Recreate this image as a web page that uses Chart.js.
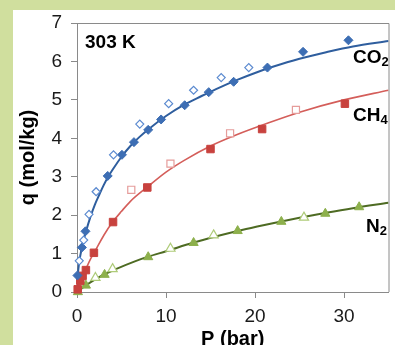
<!DOCTYPE html>
<html><head><meta charset="utf-8">
<script src="https://cdn.jsdelivr.net/npm/chart.js@4.4.1/dist/chart.umd.min.js"></script>
<style>html,body{margin:0;padding:0;background:#D0DF9E;overflow:hidden}#wrap{width:395px;height:345px}</style>
</head><body><div id="wrap"><canvas id="c" width="395" height="345"></canvas></div>
<script>
// ---- data (P in bar, q in mol/kg) ----
const xTickValues = [0, 10, 20, 30];
const yTickValues = [0, 1, 2, 3, 4, 5, 6, 7];

const co2FilledP = [0.05, 0.55, 0.95, 3.45, 5.05, 6.4, 8.0, 9.45, 12.1, 14.8, 17.6, 21.4, 25.4, 30.5];
const co2FilledQ = [0.43, 1.16, 1.58, 3.02, 3.57, 3.9, 4.22, 4.49, 4.86, 5.2, 5.47, 5.84, 6.25, 6.55];
const co2OpenP = [0.25, 0.75, 1.35, 2.15, 4.1, 7.05, 10.3, 13.1, 16.2, 19.3];
const co2OpenQ = [0.81, 1.35, 2.02, 2.61, 3.57, 4.37, 4.9, 5.25, 5.58, 5.84];
const co2FitP = [0, 0.1, 0.25, 0.5, 0.75, 1, 1.5, 2, 2.5, 3, 3.5, 4, 5, 6, 7, 8, 10, 12, 14, 16, 18, 20, 22, 25, 28, 31, 35];
const co2FitQ = [0, 0.45, 0.78, 1.1, 1.35, 1.57, 1.95, 2.27, 2.53, 2.78, 3.0, 3.18, 3.52, 3.8, 4.03, 4.23, 4.58, 4.87, 5.1, 5.32, 5.52, 5.7, 5.86, 6.07, 6.24, 6.39, 6.53];

const ch4FilledP = [0.08, 0.37, 0.63, 1.0, 1.9, 4.05, 7.9, 15.0, 20.8, 30.1];
const ch4FilledQ = [0.07, 0.29, 0.42, 0.57, 1.02, 1.82, 2.72, 3.72, 4.24, 4.9];
const ch4OpenP = [6.1, 10.5, 17.2, 24.6];
const ch4OpenQ = [2.66, 3.34, 4.13, 4.74];
const ch4FitP = [0, 0.3, 0.6, 1, 1.5, 2, 3, 4, 5, 6, 8, 10, 12, 15, 18, 21, 25, 30, 35];
const ch4FitQ = [0, 0.25, 0.42, 0.6, 0.85, 1.05, 1.47, 1.82, 2.1, 2.36, 2.75, 3.12, 3.42, 3.8, 4.1, 4.36, 4.68, 5.0, 5.25];

const n2FilledP = [0.1, 1.0, 3.1, 8.0, 13.1, 18.05, 22.96, 27.9, 31.7];
const n2FilledQ = [0.0, 0.17, 0.45, 0.91, 1.28, 1.59, 1.83, 2.04, 2.21];
const n2OpenP = [2.07, 4.0, 10.5, 15.35, 25.5];
const n2OpenQ = [0.37, 0.6, 1.13, 1.48, 1.94];
const n2FitP = [0, 1, 2, 3, 4, 6, 8, 10, 13, 16, 19, 22, 25, 28, 31, 35];
const n2FitQ = [0, 0.17, 0.32, 0.45, 0.56, 0.75, 0.92, 1.06, 1.28, 1.47, 1.64, 1.79, 1.93, 2.06, 2.18, 2.32];

const pts = (xs, ys) => xs.map((x, i) => ({x: x, y: ys[i]}));

const FONT = '"Liberation Sans", Arial, sans-serif';
const AXIS_GRAY = '#8A8A8A';

const bgPlugin = {
  id: 'bg',
  beforeDraw(chart) {
    const ctx = chart.ctx;
    ctx.save();
    ctx.fillStyle = '#D0DF9E';
    ctx.fillRect(0, 0, chart.width, chart.height);
    ctx.fillStyle = '#FFFFFF';
    ctx.fillRect(13, 10, chart.width - 13, chart.height - 10);
    ctx.restore();
  },
  beforeDatasetsDraw(chart) {
    const {ctx, chartArea: a} = chart;
    ctx.save();
    ctx.strokeStyle = AXIS_GRAY;
    ctx.lineWidth = 1;
    ctx.beginPath();
    ctx.moveTo(a.left, a.top + 0.5);
    ctx.lineTo(a.right + 0.5, a.top + 0.5);
    ctx.lineTo(a.right + 0.5, a.bottom);
    ctx.stroke();
    ctx.restore();
  },
  afterDraw(chart) {
    const ctx = chart.ctx;
    ctx.save();
    ctx.fillStyle = '#000';
    ctx.textBaseline = 'alphabetic';
    ctx.textAlign = 'left';
    ctx.font = 'bold 19px ' + FONT;
    ctx.fillText('303 K', 85, 48);
    const lab = (main, sub, x, y, dy) => {
      ctx.font = 'bold 19px ' + FONT;
      ctx.fillText(main, x, y);
      const w = ctx.measureText(main).width;
      ctx.font = 'bold 13px ' + FONT;
      ctx.fillText(sub, x + w, y + dy);
    };
    lab('CO', '2', 353, 63, 3);
    lab('CH', '4', 353, 121, 3);
    lab('N', '2', 366, 232, 3);
    ctx.restore();
  }
};

const scaleFix = (w, h) => (scale) => {
  if (w !== null) scale.width = w;
  if (h !== null) scale.height = h;
  scale.paddingTop = 0; scale.paddingBottom = 0;
  scale.paddingLeft = 0; scale.paddingRight = 0;
};

new Chart(document.getElementById('c'), {
  type: 'scatter',
  data: {
    datasets: [
      {data: pts(co2OpenP, co2OpenQ), pointStyle: 'rectRot', pointRadius: 4, backgroundColor: '#FFFFFF', borderColor: '#5B8AD0', borderWidth: 1.2, clip: false},
      {data: pts(co2FilledP, co2FilledQ), pointStyle: 'rectRot', pointRadius: 4.5, backgroundColor: '#3D6EB4', borderColor: '#3D6EB4', borderWidth: 1, clip: false},
      {data: pts(ch4OpenP, ch4OpenQ), pointStyle: 'rect', pointRadius: 5, backgroundColor: '#FFFFFF', borderColor: '#E59C9A', borderWidth: 1.2, clip: false},
      {data: pts(ch4FilledP, ch4FilledQ), pointStyle: 'rect', pointRadius: 5.3, backgroundColor: '#C8423E', borderColor: '#C8423E', borderWidth: 1, clip: false},
      {data: pts(n2OpenP, n2OpenQ), pointStyle: 'triangle', pointRadius: 5.3, backgroundColor: '#FFFFFF', borderColor: '#AECB78', borderWidth: 1.2, clip: false},
      {data: pts(n2FilledP, n2FilledQ), pointStyle: 'triangle', pointRadius: 5.3, backgroundColor: '#8DB04C', borderColor: '#8DB04C', borderWidth: 1, clip: false},
      {data: pts(co2FitP, co2FitQ), showLine: true, pointRadius: 0, borderColor: '#2F5E9E', borderWidth: 2, cubicInterpolationMode: 'monotone', fill: false},
      {data: pts(ch4FitP, ch4FitQ), showLine: true, pointRadius: 0, borderColor: '#D45E5A', borderWidth: 1.6, cubicInterpolationMode: 'monotone', fill: false},
      {data: pts(n2FitP, n2FitQ), showLine: true, pointRadius: 0, borderColor: '#4E6B23', borderWidth: 2, cubicInterpolationMode: 'monotone', fill: false}
    ]
  },
  options: {
    responsive: false,
    animation: false,
    devicePixelRatio: 1,
    layout: {padding: {top: 23, right: 3, left: 0, bottom: 0}},
    plugins: {legend: {display: false}, tooltip: {enabled: false}},
    events: [],
    scales: {
      x: {
        type: 'linear', min: 0, max: 35,
        afterBuildTicks: (s) => { s.ticks = xTickValues.map(v => ({value: v})); },
        afterFit: scaleFix(null, 53),
        grid: {drawOnChartArea: false, drawTicks: true, tickLength: 6, color: AXIS_GRAY},
        border: {display: true, color: AXIS_GRAY, width: 1},
        ticks: {color: '#1A1A1A', font: {family: FONT, size: 19}, padding: 7, maxRotation: 0},
        title: {display: true, text: 'P (bar)', color: '#000', font: {family: FONT, size: 20, weight: 'bold', lineHeight: 0.6}, padding: {top: 0, bottom: 0}}
      },
      y: {
        type: 'linear', min: 0, max: 7,
        afterBuildTicks: (s) => { s.ticks = yTickValues.map(v => ({value: v})); },
        afterFit: scaleFix(77, null),
        grid: {drawOnChartArea: false, drawTicks: true, tickLength: 6, color: AXIS_GRAY},
        border: {display: true, color: AXIS_GRAY, width: 1},
        ticks: {color: '#1A1A1A', font: {family: FONT, size: 19}, padding: 9},
        title: {display: true, text: 'q (mol/kg)', color: '#000', font: {family: FONT, size: 20, weight: 'bold', lineHeight: 1.2}, padding: {top: 16.5, bottom: 0}}
      }
    }
  },
  plugins: [bgPlugin]
});
</script>
</body></html>
